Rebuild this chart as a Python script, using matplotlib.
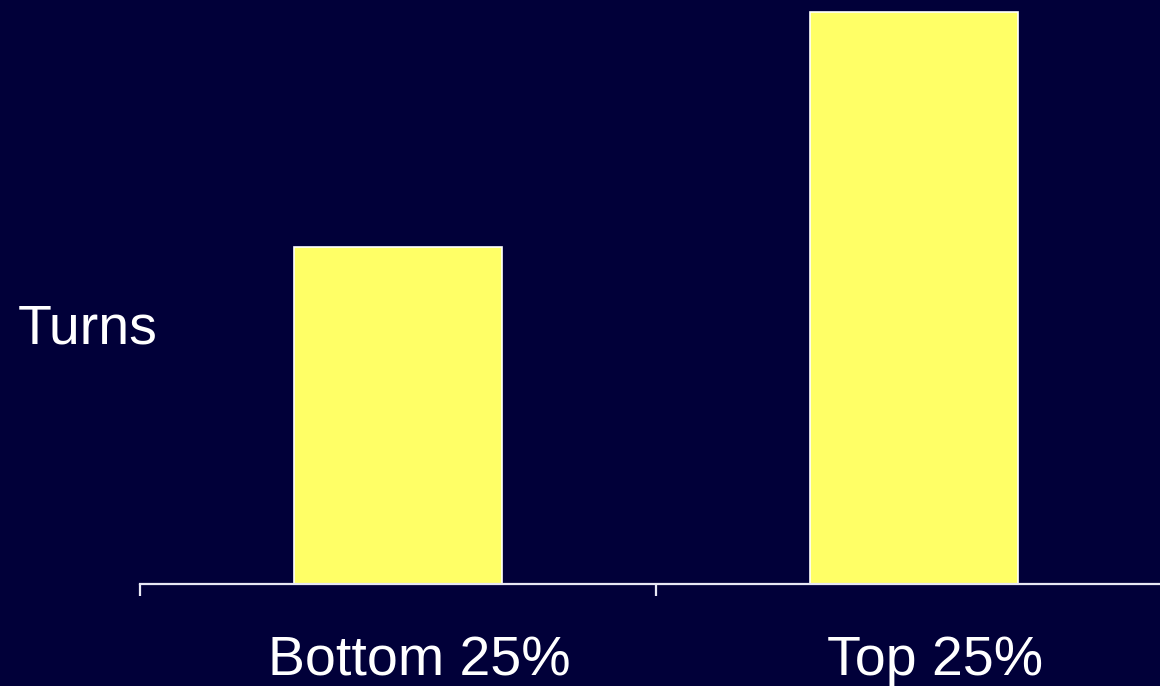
import matplotlib
matplotlib.use("Agg")
import matplotlib.pyplot as plt
import matplotlib.transforms as mtransforms

categories = ["Bottom 25%", "Top 25%"]
values = [3.46, 5.88]
ylabel = "Turns"

BG = "#010039"
BAR = "#ffff66"

plt.rcParams['font.family'] = ['Liberation Sans', 'DejaVu Sans']

W, H = 1160, 686
fig = plt.figure(figsize=(W / 100, H / 100), dpi=100, facecolor=BG)
ax_bottom = 583.5
ax = fig.add_axes([140 / W, (H - ax_bottom) / H, 1032 / W, ax_bottom / H])
ax.set_facecolor(BG)

x = list(range(len(categories)))
ax.bar(x, values, width=0.405, color=BAR, edgecolor="#ffffff", linewidth=1.2)

ax.set_xlim(-0.5, len(categories) - 0.5)
ax.set_ylim(0, 6)

for s in ["top", "right", "left"]:
    ax.spines[s].set_visible(False)
ax.spines["bottom"].set_color("#e8e8f4")
ax.spines["bottom"].set_linewidth(1.6)
ax.yaxis.set_visible(False)

# boundary tick marks
ax.set_xticks([i - 0.5 for i in range(len(categories) + 1)])
ax.set_xticklabels([])
ax.tick_params(axis="x", which="major", length=8.5, width=1.6, color="#e8e8f4", direction="out")

# category labels
offset = mtransforms.ScaledTranslation(21 / 100, 0, fig.dpi_scale_trans)
trans = mtransforms.blended_transform_factory(ax.transData, fig.transFigure) + offset
for i, lab in enumerate(categories):
    ax.text(i, 11 / H, lab, transform=trans,
            ha="center", va="baseline", fontsize=40, color="white")

fig.text(18 / W, (H - 343) / H, ylabel, ha="left", va="baseline", fontsize=40, color="white")

fig.savefig("out.png", dpi=100, facecolor=BG)
